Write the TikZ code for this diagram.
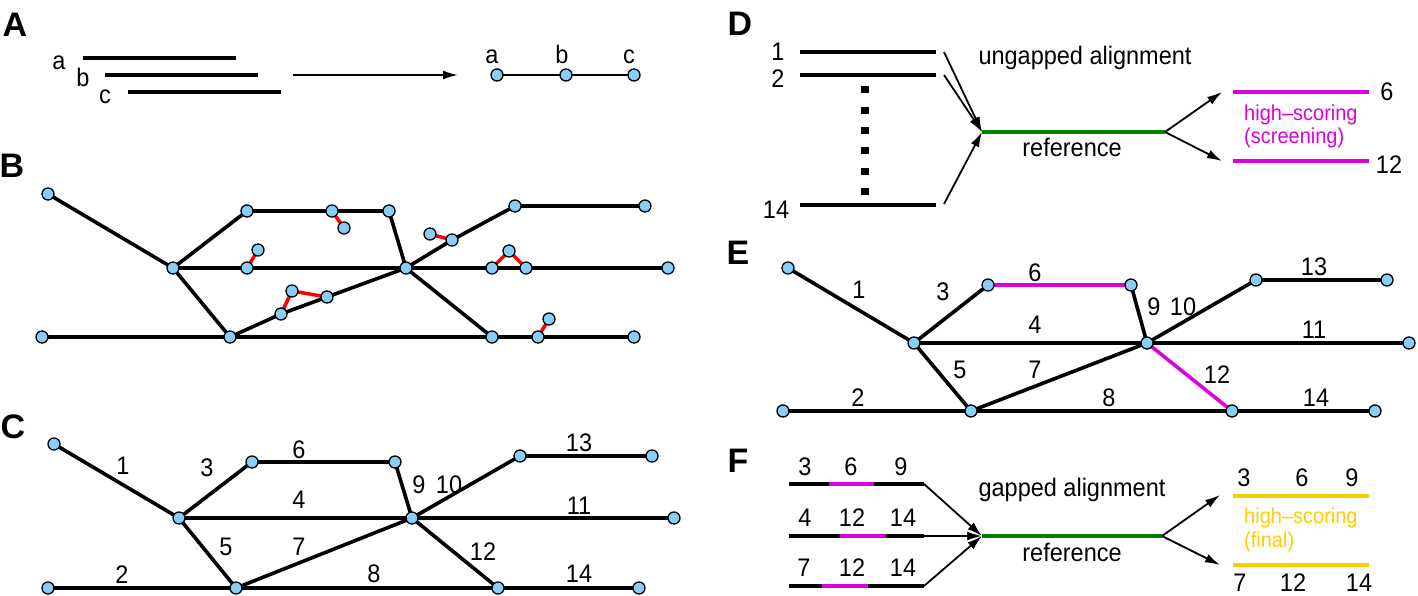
\documentclass[tikz,border=0pt]{standalone}
\usepackage{fontspec}
\setmainfont{Liberation Sans}
\usetikzlibrary{arrows.meta}
\definecolor{nodeblue}{RGB}{135,206,250}
\definecolor{mag}{RGB}{220,0,220}
\definecolor{gold}{RGB}{255,204,0}
\definecolor{grn}{RGB}{0,130,0}
\pgfdeclarelayer{bg}
\pgfsetlayers{bg,main}
\begin{document}
\begin{tikzpicture}[x=1pt,y=-1pt,
  vtx/.style={circle,draw=black,fill=nodeblue,line width=1.3pt,inner sep=0pt,minimum size=12pt},
  edge/.style={line width=3.6pt,black},
  redge/.style={line width=3.5pt,red},
  medge/.style={line width=3.6pt,mag},
  lbl/.style={font=\fontsize{23.5}{27}\selectfont,inner sep=0pt,yscale=1.08},
  panel/.style={font=\fontsize{34}{38}\selectfont\bfseries,inner sep=0pt},
  seg/.style={line width=4pt},
  arr/.style={line width=1.8pt,-{Latex[length=15pt,width=9pt]}},
  hs/.style={font=\fontsize{20}{24}\selectfont,inner sep=0pt,anchor=west,yscale=1.08},
]
\useasboundingbox (0,0) rectangle (1418,596);

% ---------------- panel letters
\node[panel] (pA) at (15,25) {A};
\node[panel] (pB) at (12,166) {B};
\node[panel] (pC) at (13,427) {C};
\node[panel] (pD) at (740,24) {D};
\node[panel] (pE) at (738,253) {E};
\node[panel] (pF) at (738,461) {F};

% ---------------- panel A
\coordinate (la1) at (83,58);  \coordinate (la2) at (236,58);
\coordinate (lb1) at (105,75); \coordinate (lb2) at (258,75);
\coordinate (lc1) at (128,92); \coordinate (lc2) at (281,92);
\draw[seg] (la1) -- (la2);
\draw[seg] (lb1) -- (lb2);
\draw[seg] (lc1) -- (lc2);
\node[lbl,anchor=base] (tla) at (59,69.5) {a};
\node[lbl,anchor=base] (tlb) at (83,87) {b};
\node[lbl,anchor=base] (tlc) at (105,104) {c};
\coordinate (arS) at (293,75); \coordinate (arE) at (458,75);
\draw[arr] (arS) -- (arE);
\node[vtx] (na) at (497,75) {};
\node[vtx] (nb) at (566,75) {};
\node[vtx] (nc) at (634,75) {};
\begin{pgfonlayer}{bg}
\draw[line width=2pt] (na.center) -- (nb.center) -- (nc.center);
\end{pgfonlayer}
\node[lbl,anchor=base] (tna) at (492,63.5) {a};
\node[lbl,anchor=base] (tnb) at (562,63.5) {b};
\node[lbl,anchor=base] (tnc) at (629,63.5) {c};

% ---------------- panel B
\node[vtx] (b1) at (48,194) {};
\node[vtx] (b2) at (173,268) {};
\node[vtx] (b3) at (247,211) {};
\node[vtx] (b4) at (332,211) {};
\node[vtx] (b4x) at (344,228) {};
\node[vtx] (b5) at (389,211) {};
\node[vtx] (b6) at (258,250) {};
\node[vtx] (b7) at (247,268) {};
\node[vtx] (b8) at (406,268) {};
\node[vtx] (b9) at (430,234) {};
\node[vtx] (b10) at (452,240) {};
\node[vtx] (b11) at (515,206) {};
\node[vtx] (b12) at (645,206) {};
\node[vtx] (b13) at (492,268) {};
\node[vtx] (b14) at (509,251) {};
\node[vtx] (b15) at (526,268) {};
\node[vtx] (b16) at (668,268) {};
\node[vtx] (b17) at (292,291) {};
\node[vtx] (b18) at (327,297) {};
\node[vtx] (b19) at (281,314) {};
\node[vtx] (b20) at (42,337) {};
\node[vtx] (b21) at (230,337) {};
\node[vtx] (b22) at (492,337) {};
\node[vtx] (b23) at (538,337) {};
\node[vtx] (b24) at (549,319) {};
\node[vtx] (b25) at (634,337) {};
\begin{pgfonlayer}{bg}
\draw[edge] (b1.center) -- (b2.center);
\draw[edge] (b2.center) -- (b3.center) -- (b4.center) -- (b5.center) -- (b8.center);
\draw[edge] (b2.center) -- (b7.center) -- (b8.center) -- (b13.center) -- (b15.center) -- (b16.center);
\draw[edge] (b2.center) -- (b21.center) -- (b19.center) -- (b18.center) -- (b8.center);
\draw[edge] (b8.center) -- (b10.center) -- (b11.center) -- (b12.center);
\draw[edge] (b8.center) -- (b22.center);
\draw[edge] (b20.center) -- (b21.center) -- (b22.center) -- (b23.center) -- (b25.center);
\draw[redge] (b4.center) -- (b4x.center);
\draw[redge] (b7.center) -- (b6.center);
\draw[redge] (b9.center) -- (b10.center);
\draw[redge] (b13.center) -- (b14.center) -- (b15.center);
\draw[redge] (b19.center) -- (b17.center) -- (b18.center);
\draw[redge] (b23.center) -- (b24.center);
\end{pgfonlayer}

% ---------------- panel C
\node[vtx] (c1) at (54,444) {};
\node[vtx] (c2) at (179,518) {};
\node[vtx] (c3) at (252,462) {};
\node[vtx] (c4) at (395,462) {};
\node[vtx] (c5) at (412,518) {};
\node[vtx] (c6) at (520,456) {};
\node[vtx] (c7) at (652,456) {};
\node[vtx] (c8) at (674,518) {};
\node[vtx] (c9) at (48,588) {};
\node[vtx] (c10) at (236,588) {};
\node[vtx] (c11) at (498,588) {};
\node[vtx] (c12) at (639,588) {};
\begin{pgfonlayer}{bg}
\draw[edge] (c1.center) -- (c2.center);
\draw[edge] (c2.center) -- (c3.center) -- (c4.center) -- (c5.center) -- (c6.center) -- (c7.center);
\draw[edge] (c2.center) -- (c5.center) -- (c8.center);
\draw[edge] (c2.center) -- (c10.center) -- (c5.center) -- (c11.center);
\draw[edge] (c9.center) -- (c10.center) -- (c11.center) -- (c12.center);
\end{pgfonlayer}
\node[lbl] (tc1) at (123,466) {1};
\node[lbl] (tc3) at (207,468) {3};
\node[lbl] (tc6) at (299,450) {6};
\node[lbl] (tc9) at (419,485) {9};
\node[lbl] (tc10) at (449,485) {10};
\node[lbl] (tc13) at (579,443) {13};
\node[lbl] (tc4) at (299,500) {4};
\node[lbl] (tc11) at (579,506) {11};
\node[lbl] (tc5) at (226,547) {5};
\node[lbl] (tc7) at (299,547) {7};
\node[lbl] (tc12) at (483,552) {12};
\node[lbl] (tc2) at (122,575) {2};
\node[lbl] (tc8) at (374,574) {8};
\node[lbl] (tc14) at (579,574) {14};

% ---------------- panel D
\coordinate (d1a) at (800,52);  \coordinate (d1b) at (936,52);
\coordinate (d2a) at (800,75);  \coordinate (d2b) at (936,75);
\coordinate (d3a) at (800,205); \coordinate (d3b) at (936,205);
\draw[seg] (d1a) -- (d1b);
\draw[seg] (d2a) -- (d2b);
\draw[seg] (d3a) -- (d3b);
\node[lbl] (td1) at (778,52) {1};
\node[lbl] (td2) at (778,79) {2};
\node[lbl] (td14) at (776,210) {14};
\coordinate (dd1) at (865,86.5); \coordinate (dd2) at (865,196);
\draw[line width=8pt,dash pattern=on 7pt off 13.3pt] (dd1) -- (dd2);
\coordinate (ds1) at (944,52);
\coordinate (ds2) at (944,75);
\coordinate (ds3) at (944,204);
\coordinate (dref) at (982,132);
\coordinate (drefe) at (1165,132);
\draw[arr] (ds1) -- (dref);
\draw[arr] (ds2) -- (dref);
\draw[arr] (ds3) -- (dref);
\draw[seg,grn] (dref) -- (drefe);
\node[lbl] (tung) at (1085,58) {ungapped alignment};
\node[lbl] (tdref) at (1072,147) {reference};
\coordinate (dm1) at (1222,92);
\coordinate (dm2) at (1222,161);
\draw[arr] (drefe) -- (dm1);
\draw[arr] (drefe) -- (dm2);
\coordinate (dma) at (1233,92);  \coordinate (dmb) at (1369,92);
\coordinate (dmc) at (1233,161); \coordinate (dmd) at (1369,161);
\draw[seg,mag] (dma) -- (dmb);
\draw[seg,mag] (dmc) -- (dmd);
\node[lbl] (td6) at (1387,92) {6};
\node[lbl] (td12) at (1389,165) {12};
\node[hs,text=mag] (tdhs) at (1244,115) {high–scoring};
\node[hs,text=mag] (tdsc) at (1244,138) {(screening)};

% ---------------- panel E
\node[vtx] (e1) at (788,268) {};
\node[vtx] (e2) at (914,343) {};
\node[vtx] (e3) at (988,285) {};
\node[vtx] (e4) at (1131,285) {};
\node[vtx] (e5) at (1147,343) {};
\node[vtx] (e6) at (1256,280) {};
\node[vtx] (e7) at (1387,280) {};
\node[vtx] (e8) at (1409,343) {};
\node[vtx] (e9) at (783,411) {};
\node[vtx] (e10) at (971,411) {};
\node[vtx] (e11) at (1232,411) {};
\node[vtx] (e12) at (1375,411) {};
\begin{pgfonlayer}{bg}
\draw[edge] (e1.center) -- (e2.center);
\draw[edge] (e2.center) -- (e3.center);
\draw[medge] (e3.center) -- (e4.center);
\draw[edge] (e4.center) -- (e5.center) -- (e6.center) -- (e7.center);
\draw[edge] (e2.center) -- (e5.center) -- (e8.center);
\draw[edge] (e2.center) -- (e10.center) -- (e5.center);
\draw[medge] (e5.center) -- (e11.center);
\draw[edge] (e9.center) -- (e10.center) -- (e11.center) -- (e12.center);
\end{pgfonlayer}
\node[lbl] (te1) at (859,290) {1};
\node[lbl] (te3) at (943,292) {3};
\node[lbl] (te6) at (1035,273) {6};
\node[lbl] (te9) at (1154,307) {9};
\node[lbl] (te10) at (1183,307) {10};
\node[lbl] (te13) at (1314,267) {13};
\node[lbl] (te4) at (1035,325) {4};
\node[lbl] (te11) at (1314,330) {11};
\node[lbl] (te5) at (960,370) {5};
\node[lbl] (te7) at (1035,370) {7};
\node[lbl] (te12) at (1217,375) {12};
\node[lbl] (te2) at (858,398) {2};
\node[lbl] (te8) at (1109,398) {8};
\node[lbl] (te14) at (1316,398) {14};

% ---------------- panel F
\coordinate (f1a) at (789,484); \coordinate (f1b) at (924,484);
\coordinate (f2a) at (789,536); \coordinate (f2b) at (924,536);
\coordinate (f3a) at (789,586); \coordinate (f3b) at (924,586);
\draw[seg] (f1a) -- (f1b);
\draw[seg] (f2a) -- (f2b);
\draw[seg] (f3a) -- (f3b);
\coordinate (f1m) at (829,484); \coordinate (f1n) at (874,484);
\coordinate (f2m) at (840,536); \coordinate (f2n) at (886,536);
\coordinate (f3m) at (822,586); \coordinate (f3n) at (868,586);
\draw[seg,mag] (f1m) -- (f1n);
\draw[seg,mag] (f2m) -- (f2n);
\draw[seg,mag] (f3m) -- (f3n);
\node[lbl] (tf13) at (805,467) {3};
\node[lbl] (tf16) at (851,467) {6};
\node[lbl] (tf19) at (901,467) {9};
\node[lbl] (tf24) at (805,518) {4};
\node[lbl] (tf212) at (852,518) {12};
\node[lbl] (tf214) at (903,518) {14};
\node[lbl] (tf37) at (804,568) {7};
\node[lbl] (tf312) at (852,568) {12};
\node[lbl] (tf314) at (903,568) {14};
\coordinate (fref) at (982,536);
\coordinate (frefe) at (1162,536);
\draw[arr] (f1b) -- (fref);
\draw[arr] (f2b) -- (fref);
\draw[arr] (f3b) -- (fref);
\draw[seg,grn] (fref) -- (frefe);
\node[lbl] (tgap) at (1072,490) {gapped alignment};
\node[lbl] (tfref) at (1072,552) {reference};
\coordinate (fg1) at (1220,495);
\coordinate (fg2) at (1220,565);
\draw[arr] (frefe) -- (fg1);
\draw[arr] (frefe) -- (fg2);
\coordinate (fga) at (1233,496); \coordinate (fgb) at (1369,496);
\coordinate (fgc) at (1233,565); \coordinate (fgd) at (1369,565);
\draw[seg,gold] (fga) -- (fgb);
\draw[seg,gold] (fgc) -- (fgd);
\node[lbl] (tg3) at (1244,478) {3};
\node[lbl] (tg6) at (1302,478) {6};
\node[lbl] (tg9) at (1352,478) {9};
\node[lbl] (tg7) at (1240,583) {7};
\node[lbl] (tg12) at (1293,583) {12};
\node[lbl] (tg14) at (1359,583) {14};
\node[hs,text=gold] (tfhs) at (1244,518) {high–scoring};
\node[hs,text=gold] (tffin) at (1244,542) {(final)};
\end{tikzpicture}
\end{document}
